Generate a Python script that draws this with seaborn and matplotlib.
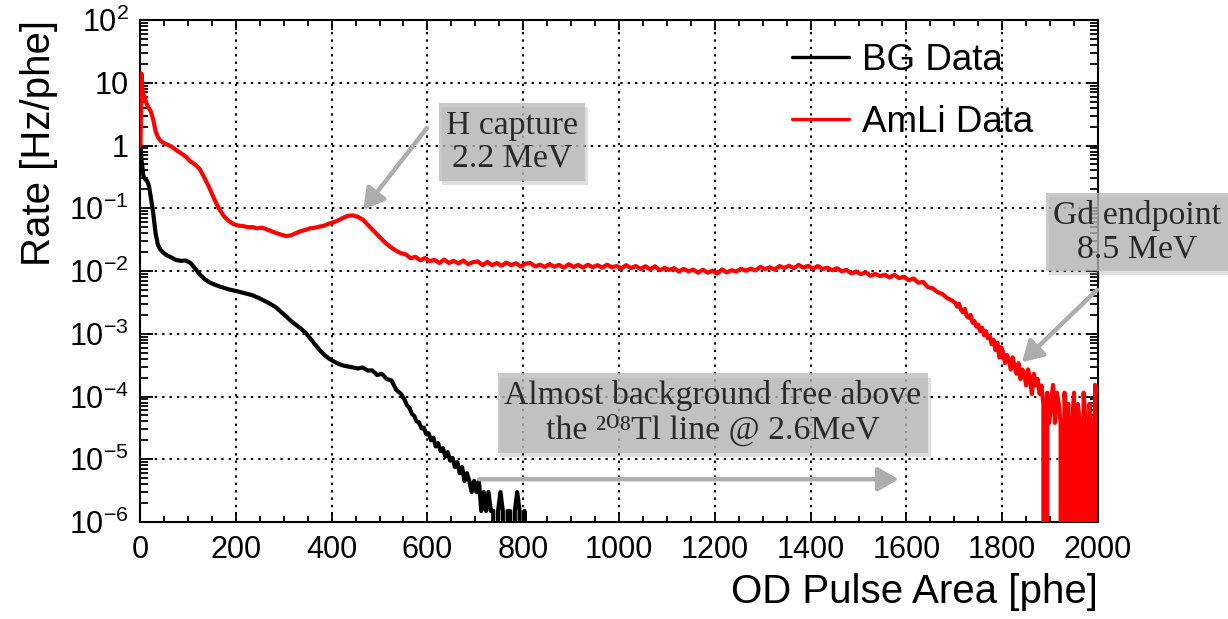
import numpy as np
import pandas as pd
import matplotlib
matplotlib.use("Agg")
import matplotlib.pyplot as plt
import matplotlib.ticker as mticker
import matplotlib.patheffects as pe
from matplotlib.lines import Line2D
import seaborn as sns

# ---------------------------------------------------------------------------
# Histogram contents: OD pulse-area spectra, rate per phe in each bin
# ---------------------------------------------------------------------------
# bin centres [phe]: 2 phe bins (0-20), 5 phe bins (20-50), then 10 phe bins
first_centres = [1, 3, 5, 7, 9, 11, 13, 15, 17, 19, 22.5, 27.5, 32.5, 37.5, 42.5, 47.5]
amli_area = np.concatenate([first_centres, np.arange(55, 1700, 10), np.arange(1702, 2000, 4)])
bg_area = np.concatenate([first_centres, np.arange(55, 550, 10), np.arange(552.5, 820, 5)])

amli_rate = [
    # 0 - 50 phe
    1.0, 14.0, 8.0, 5.5, 6.2, 5.3, 4.9, 4.4, 4.1, 3.9,
    3.5, 2.6, 1.7, 1.35, 1.2, 1.12,
    # 50 - 1700 phe, 10 phe bins
    1.05, 0.97, 0.85, 0.76, 0.67, 0.56, 0.50, 0.42, 0.30, 0.21,
    0.14, 0.098, 0.075, 0.063, 0.056, 0.053, 0.052, 0.050, 0.050, 0.048,
    0.049, 0.046, 0.043, 0.040, 0.038, 0.036, 0.037, 0.040, 0.043, 0.045,
    0.048, 0.049, 0.051, 0.053, 0.057, 0.060, 0.065, 0.071, 0.076, 0.077,
    0.073, 0.066, 0.055, 0.046, 0.038, 0.032, 0.027, 0.0235, 0.021, 0.0192,
    0.0184, 0.0160, 0.0168, 0.0148, 0.0161, 0.0144, 0.0150, 0.0134, 0.0152, 0.0134,
    0.0145, 0.0132, 0.0147, 0.0128, 0.0138, 0.0142, 0.0124, 0.0139, 0.0124, 0.0134,
    0.0121, 0.0136, 0.0124, 0.0133, 0.0118, 0.0131, 0.0134, 0.0118, 0.0126, 0.0116,
    0.0129, 0.0117, 0.0125, 0.0113, 0.0128, 0.0116, 0.0125, 0.0113, 0.0126, 0.0115,
    0.0124, 0.0113, 0.0126, 0.0115, 0.0120, 0.0110, 0.0124, 0.0111, 0.0120, 0.0108,
    0.0119, 0.0106, 0.0119, 0.0103, 0.0112, 0.0104, 0.0111, 0.0098, 0.0108, 0.0099,
    0.0105, 0.0094, 0.0105, 0.0094, 0.0101, 0.0091, 0.0106, 0.0095, 0.0103, 0.0098,
    0.0109, 0.0101, 0.0109, 0.0102, 0.0116, 0.0107, 0.0115, 0.0105, 0.0120, 0.0112,
    0.0121, 0.0111, 0.0125, 0.0113, 0.0121, 0.0109, 0.0120, 0.0108, 0.0113, 0.0103,
    0.0111, 0.0099, 0.0104, 0.0092, 0.0098, 0.0089, 0.0096, 0.0084, 0.0090, 0.0083,
    0.0087, 0.0079, 0.0087, 0.0077, 0.0081, 0.0071, 0.0076, 0.0065, 0.0067, 0.0055,
    0.0053, 0.0046, 0.0043, 0.0037, 0.0034,
    # 1700 - 2000 phe, 4 phe bins
    0.0031, 0.0027, 0.0030, 0.0024, 0.0022, 0.0025, 0.0019, 0.0018, 0.0020, 0.0015,
    0.0016, 0.0013, 0.0014, 0.0011, 0.00125, 0.00095, 0.0011, 0.00085, 0.00092, 0.00068,
    0.00080, 0.00055, 0.00072, 0.00042, 0.00061, 0.00050, 0.00034, 0.00046, 0.00038, 0.00027,
    0.00042, 0.00030, 0.00023, 0.00034, 0.00019, 0.00027, 0.00023, 0.00015, 0.00027, 0.00019,
    0.00011, 0.00023, 0.00015, 0.00019, 0.00011, 0.00015, 7.6e-5, 0.0, 1.15e-4, 3.8e-5,
    7.6e-5, 1.53e-4, 3.8e-5, 1.15e-4, 7.6e-5, 3.8e-5, 0.0, 1.15e-4, 3.8e-5, 7.6e-5,
    0.0, 3.8e-5, 1.15e-4, 0.0, 7.6e-5, 3.8e-5, 0.0, 1.15e-4, 3.8e-5, 0.0,
    7.6e-5, 3.8e-5, 0.0, 1.53e-4, 1.15e-4,
]

bg_rate = [
    # 0 - 50 phe
    1.0, 0.6, 0.45, 0.33, 0.30, 0.29, 0.28, 0.27, 0.25, 0.22,
    0.15, 0.085, 0.040, 0.026, 0.022, 0.020,
    # 50 - 550 phe, 10 phe bins
    0.018, 0.0165, 0.015, 0.0145, 0.0147, 0.0135, 0.011, 0.0088, 0.0074, 0.0066,
    0.0061, 0.0057, 0.0054, 0.0051, 0.0049, 0.0047, 0.0045, 0.0043, 0.0041, 0.0038,
    0.0035, 0.0032, 0.0029, 0.0026, 0.0022, 0.0019, 0.0016, 0.0014, 0.00122, 0.00105,
    0.00085, 0.00068, 0.00055, 0.00046, 0.00040, 0.00036, 0.00033, 0.00031, 0.00030, 0.00029,
    0.00028, 0.00029, 0.00026, 0.00026, 0.00022, 0.00023, 0.00019, 0.00018, 0.000128, 0.000110,
    # 550 - 820 phe, 5 phe bins
    8.8e-5, 7.2e-5, 6.6e-5, 5.3e-5, 4.9e-5, 4.0e-5, 3.9e-5, 3.1e-5, 3.2e-5, 2.5e-5,
    2.6e-5, 2.0e-5, 2.2e-5, 1.6e-5, 1.8e-5, 1.35e-5, 1.5e-5, 1.1e-5, 1.3e-5, 9.5e-6,
    1.05e-5, 7.5e-6, 9.0e-6, 6.0e-6, 7.5e-6, 4.5e-6, 6.0e-6, 4.5e-6, 3.0e-6, 4.5e-6,
    3.0e-6, 4.5e-6, 1.5e-6, 3.0e-6, 1.5e-6, 3.0e-6, 1.5e-6, 1.5e-6, 0.0, 1.5e-6,
    3.0e-6, 1.5e-6, 0.0, 1.5e-6, 1.5e-6, 0.0, 1.5e-6, 3.0e-6, 1.5e-6, 0.0,
    1.5e-6, 0.0, 0.0, 0.0,
]

series_labels = ["BG Data", "AmLi Data"]
series_colors = ["#000000", "#ff0000"]

x_ticks = [0, 200, 400, 600, 800, 1000, 1200, 1400, 1600, 1800, 2000]

# ---------------------------------------------------------------------------
sns.set_theme(style="ticks")
plt.rcParams.update({
    "font.family": ["Liberation Sans", "DejaVu Sans"],
    "mathtext.fontset": "custom",
    "mathtext.rm": "Liberation Sans",
    "mathtext.it": "Liberation Sans:italic",
    "mathtext.bf": "Liberation Sans:bold",
    "axes.edgecolor": "black",
    "axes.linewidth": 1.5,
    "axes.labelcolor": "black",
    "text.color": "black",
    "xtick.color": "black",
    "ytick.color": "black",
})

fig = plt.figure(figsize=(12.28, 6.19), dpi=100)
ax = fig.add_axes([140 / 1228, 97 / 619, 958 / 1228, 502 / 619])

bg = pd.DataFrame({"area": bg_area, "rate": bg_rate})
amli = pd.DataFrame({"area": amli_area, "rate": amli_rate})

sns.lineplot(data=bg, x="area", y="rate", ax=ax, estimator=None, color=series_colors[0],
             lw=3.0, zorder=3)
sns.lineplot(data=amli, x="area", y="rate", ax=ax, estimator=None, color=series_colors[1],
             lw=3.0, zorder=3)

ax.set_yscale("log")
ax.set_xlim(0, 2000)
ax.set_ylim(1e-6, 1e2)

# axes, ticks and grid
ax.xaxis.set_major_locator(mticker.FixedLocator(x_ticks))
ax.xaxis.set_minor_locator(mticker.MultipleLocator(50))
ax.yaxis.set_major_locator(mticker.LogLocator(base=10, numticks=20))
ax.yaxis.set_minor_locator(mticker.LogLocator(base=10, subs=np.arange(2, 10), numticks=20))
ax.yaxis.set_minor_formatter(mticker.NullFormatter())


def decade_label(v, pos):
    e = int(round(np.log10(v)))
    if e == 0:
        return "1"
    if e == 1:
        return "10"
    return r"$\mathregular{10^{%d}}$" % e


ax.yaxis.set_major_formatter(mticker.FuncFormatter(decade_label))

ax.tick_params(axis="both", which="both", direction="in", top=True, right=True,
               width=1.3, labelsize=22)
ax.tick_params(axis="x", which="major", length=7, pad=9)
ax.tick_params(axis="x", which="minor", length=4)
ax.tick_params(axis="y", which="major", length=9, pad=8)
ax.tick_params(axis="y", which="minor", length=6)

ax.grid(True, which="major", color="black", linestyle=(0, (1.2, 2.6)), linewidth=1.4)
ax.set_axisbelow(False)

ax.set_xlabel("OD Pulse Area [phe]", loc="right", fontsize=29, labelpad=6)
ax.set_ylabel("Rate [Hz/phe]", loc="top", fontsize=29, labelpad=8)

# legend
handles = [Line2D([], [], color=c, lw=2.4) for c in series_colors]
ax.legend(handles, series_labels, loc="upper left", bbox_to_anchor=(0.681, 0.955),
          frameon=False, fontsize=26.5, handlelength=1.55, handletextpad=0.35,
          labelspacing=0.75, borderpad=0, borderaxespad=0)

# annotations
serif = ["Liberation Serif", "DejaVu Serif"]
box_kw = dict(boxstyle="square,pad=0.2", facecolor="#b8b8b8", edgecolor="none", alpha=0.75)
arrow_kw = dict(arrowstyle="-|>,head_length=0.95,head_width=0.55", color="#adadad",
                lw=3.2, mutation_scale=13, shrinkA=0, shrinkB=0)
shadow = [pe.SimplePatchShadow(offset=(2, -3), shadow_rgbFace="#808080", alpha=0.25), pe.Normal()]


def note(x, y, s):
    t = ax.text(x, y, s, ha="center", va="center", fontsize=24.3, family=serif,
                color="#2a2a2a", bbox=box_kw, zorder=6, linespacing=1.12, clip_on=False)
    t.get_bbox_patch().set_path_effects(shadow)
    return t


def pointer(tail, tip):
    ax.annotate("", xy=tip, xytext=tail, arrowprops=arrow_kw, zorder=5,
                annotation_clip=False)


note(777, 1.14, "H capture\n2.2 MeV")
pointer((599, 1.9), (466, 0.094))

note(2081, 0.0419, "Gd endpoint\n8.5 MeV")
pointer((1998, 0.005), (1841, 3.5e-4))

note(1196, 5.46e-5, "Almost background free above\nthe \u00b2\u2070\u2078Tl line @ 2.6MeV")
pointer((708, 4.8e-6), (1584, 4.8e-6))

fig.savefig("out.png", dpi=100)
